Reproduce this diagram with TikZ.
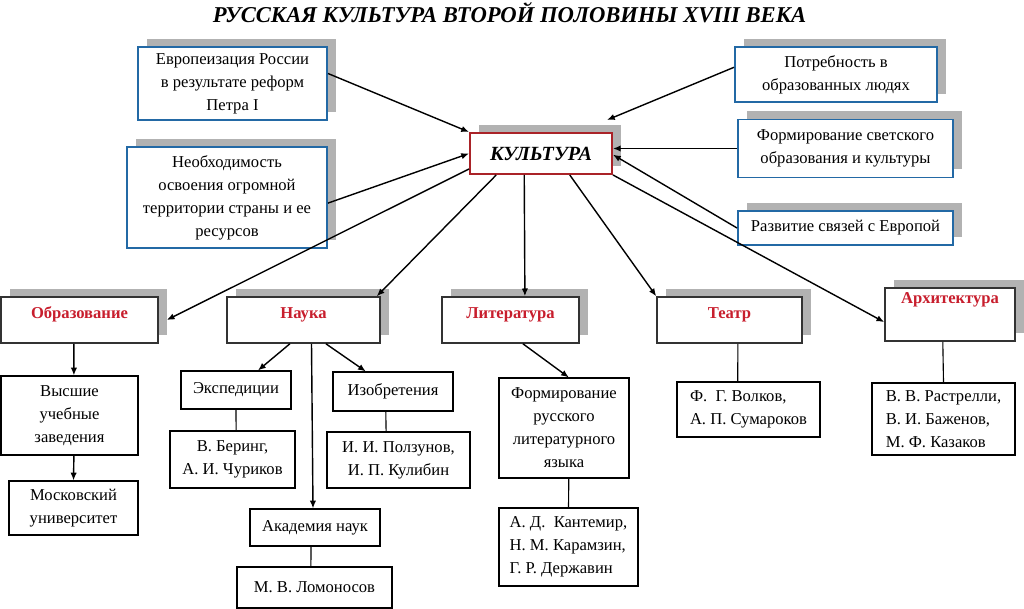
\documentclass[tikz,border=0pt]{standalone}
\usepackage{fontspec}
\setmainfont{Liberation Serif}
\usetikzlibrary{arrows.meta,shadows,positioning}
\definecolor{causeblue}{RGB}{35,105,165}
\definecolor{headred}{RGB}{200,30,45}
\definecolor{corered}{RGB}{170,35,40}

\begin{document}
\begin{tikzpicture}[x=0.025cm,y=-0.025cm,>={Latex[length=5.5pt,width=4.5pt]},
  wh/.style 2 args={minimum width=#1*0.025cm,minimum height=#2*0.025cm},
  backdrop/.style={drop shadow={shadow xshift=0.22cm,shadow yshift=0.21cm,fill=black!30,opacity=1}},
  cause/.style={draw=causeblue,line width=1.4pt,fill=white,backdrop,align=center,inner sep=2pt,font=\fontsize{11.8}{16.3}\selectfont},
  core/.style={draw=corered,line width=1.4pt,fill=white,backdrop,font=\fontsize{14.3}{16}\selectfont\bfseries\itshape},
  field/.style={draw=black!80,line width=1.1pt,fill=white,backdrop,text=headred,text height=0.28cm,text depth=0.33cm,font=\fontsize{11.8}{16.3}\selectfont\bfseries},
  leaf/.style={draw,line width=0.8pt,align=center,inner sep=2pt,font=\fontsize{11.8}{16.3}\selectfont},
  leafl/.style={leaf,align=left},
  arr/.style={->,line width=1pt},
  ln/.style={line width=0.8pt}]
   \useasboundingbox (0,0) rectangle (1024,609);
   \node[font=\fontsize{16.1}{18}\selectfont\bfseries\itshape] (title) at (509.5,13) {РУССКАЯ КУЛЬТУРА ВТОРОЙ ПОЛОВИНЫ XVIII ВЕКА};

   \node[cause,wh={189}{73}] (evr) at (232.5,83.5) {Европеизация России\\в результате реформ\\Петра I};
   \node[cause,wh={200}{101}] (neob) at (227,197.5) {Необходимость\\освоения огромной\\территории страны и ее\\ресурсов};
   \node[core,wh={142}{41}] (kult) at (541,153.5) {КУЛЬТУРА};
   \node[cause,wh={202}{55}] (potr) at (836,74.5) {Потребность в\\образованных людях};
   \node[cause,wh={215}{58}] (svet) at (845.5,148.5) {Формирование светского\\образования и культуры};
   \node[cause,wh={215}{34}] (razv) at (845.5,228) {Развитие связей с Европой};

   \node[field,wh={157}{46}] (obr) at (79.5,320) {Образование};
   \node[field,wh={153}{46}] (nauka) at (303.5,320) {Наука};
   \node[field,wh={137}{46}] (lit) at (510.5,320) {Литература};
   \node[field,wh={145}{46}] (teatr) at (729.5,320) {Театр};
   \node[field,wh={130}{45},text depth=0.81cm] (arch) at (950,314.5) {Архитектура};

   \node[leaf,wh={137}{79}] (vuz) at (69.5,415.5) {Высшие\\учебные\\заведения};
   \node[leaf,wh={129}{54}] (mgu) at (73.5,508) {Московский\\университет};
   \node[leaf,wh={110}{38}] (eksp) at (236,390) {Экспедиции};
   \node[leaf,wh={125}{57}] (bering) at (232.5,459.5) {В. Беринг,\\А. И. Чуриков};
   \node[leaf,wh={120}{39}] (izob) at (393,391.5) {Изобретения};
   \node[leaf,wh={143}{56}] (polz) at (398.5,460) {И. И. Ползунов,\\И. П. Кулибин};
   \node[leaf,wh={130}{37}] (akad) at (315,527.5) {Академия наук};
   \node[leaf,wh={155}{41}] (lomon) at (314.5,587.5) {М. В. Ломоносов};
   \node[leaf,wh={130}{100}] (frus) at (564,428) {Формирование\\русского\\литературного\\языка};
   \node[leafl,wh={139}{78}] (kantem) at (568.5,547) {А. Д.\ \ Кантемир,\\Н. М. Карамзин,\\Г. Р. Державин};
   \node[leafl,wh={143}{55}] (volk) at (748.5,409.5) {Ф.\ \ Г. Волков,\\А. П. Сумароков};
   \node[leafl,wh={143}{72}] (rastr) at (943.5,419) {В. В. Растрелли,\\В. И. Баженов,\\М. Ф. Казаков};

    \path[arr]
    ([yshift=0.25cm]evr.east) edge (kult.north west)
    ([yshift=-0.14cm]neob.east) edge (kult.west)
    ([yshift=0.18cm]potr.west) edge ([xshift=-0.15cm,yshift=0.3cm]kult.north east)
    (svet.west) edge (kult.east |- svet.west)
    (razv.west) edge ([yshift=-0.03cm]kult.east);
    \path[arr]
    ([yshift=0.15cm]kult.south west) edge ([xshift=0.2cm]obr.east)
    ([xshift=0.68cm]kult.south west) edge ([xshift=-0.1cm]nauka.north east)
    ([xshift=1.38cm]kult.south west) edge ([xshift=0.36cm]lit.north)
    ([xshift=-1.08cm]kult.south east) edge (teatr.north west)
    (kult.south east) edge ([yshift=-0.19cm]arch.west);
    \path[arr]
    ([xshift=-0.14cm]obr.south) edge ([xshift=0.11cm]vuz.north)
    ([xshift=0.11cm]vuz.south) edge (mgu.north)
    ([xshift=-0.34cm]nauka.south) edge ([xshift=0.55cm]eksp.north)
    ([xshift=0.56cm]nauka.south) edge ([xshift=-0.68cm]izob.north)
    ([xshift=0.2cm]nauka.south) edge ([xshift=-0.05cm]akad.north)
    ([xshift=0.31cm]lit.south) edge ([xshift=0.12cm]frus.north);
    \path[ln]
    (eksp.south) edge ([xshift=0.09cm]bering.north)
    ([xshift=-0.18cm]izob.south) edge ([xshift=-0.31cm]polz.north)
    ([xshift=-0.1cm]akad.south) edge ([xshift=-0.09cm]lomon.north)
    ([xshift=0.12cm]frus.south) edge (kantem.north)
    ([xshift=0.21cm]teatr.south) edge ([xshift=-0.27cm]volk.north)
    ([xshift=-0.18cm]arch.south) edge (rastr.north);
\end{tikzpicture}
\end{document}
